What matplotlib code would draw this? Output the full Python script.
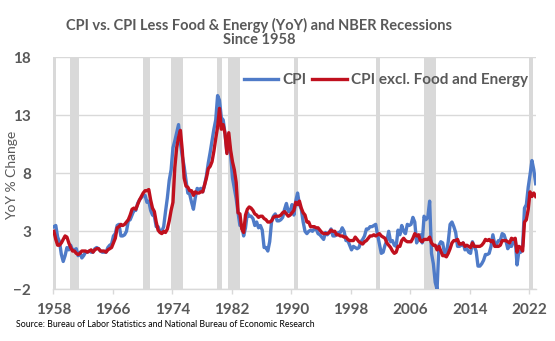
import numpy as np
import matplotlib
matplotlib.use("Agg")
import matplotlib.pyplot as plt

plt.rcParams['font.family'] = ['Lato', 'DejaVu Sans']

# ---------------- data (quarterly YoY %, Feb/May/Aug/Nov of each year) -------------
years = list(range(1958, 2023))

cpi = [
    3.4, 3.5, 2.5, 2.1,   1.0, 0.4, 0.9, 1.6,   1.4, 1.8, 1.4, 1.4,   1.5, 0.9, 1.2, 0.7,
    0.9, 1.2, 1.2, 1.3,   1.2, 1.2, 1.5, 1.6,   1.5, 1.3, 1.2, 1.2,   1.2, 1.6, 1.8, 1.9,
    2.6, 2.8, 3.5, 3.6,   2.6, 2.6, 2.7, 3.0,   3.9, 4.0, 4.4, 4.8,   4.8, 5.4, 5.7, 5.9,
    6.1, 6.1, 5.5, 5.6,   4.8, 4.4, 4.3, 3.4,   3.4, 3.0, 3.0, 3.4,   4.7, 5.9, 7.4, 8.3,
    10.2, 10.8, 11.5, 12.2, 10.6, 9.5, 8.6, 7.4, 6.3, 6.2, 5.5, 4.9,  5.9, 6.7, 6.6, 6.7,
    6.4, 7.0, 7.8, 8.9,   9.8, 10.8, 11.8, 12.6, 14.7, 14.3, 12.8, 12.6, 11.4, 9.8, 10.8, 9.6,
    7.6, 6.7, 5.8, 4.6,   3.5, 3.5, 2.6, 3.3,   4.6, 4.3, 4.3, 4.1,   3.5, 3.8, 3.3, 3.5,
    3.1, 1.6, 1.6, 1.3,   2.1, 3.8, 4.3, 4.5,   3.9, 3.9, 4.0, 4.2,   4.9, 5.4, 4.7, 4.7,
    5.3, 4.4, 5.6, 6.3,   5.3, 4.9, 3.8, 3.0,   2.8, 3.0, 3.1, 3.0,   3.2, 3.2, 2.8, 2.7,
    2.5, 2.3, 2.9, 2.7,   2.9, 3.2, 2.6, 2.6,   2.7, 2.9, 2.9, 3.3,   3.0, 2.2, 2.2, 1.8,
    1.4, 1.7, 1.6, 1.5,   1.6, 2.1, 2.3, 2.6,   3.2, 3.2, 3.4, 3.4,   3.5, 3.6, 2.7, 1.9,
    1.1, 1.2, 1.8, 2.2,   3.0, 2.1, 2.2, 1.8,   1.7, 3.1, 2.7, 3.5,   3.0, 2.8, 3.6, 3.5,
    3.6, 4.2, 3.8, 2.0,   2.4, 2.7, 2.0, 4.3,   4.0, 4.2, 5.6, 1.1,   0.2, -1.4, -2.0, 1.8,
    2.1, 2.0, 1.1, 1.1,   2.1, 3.6, 3.8, 3.4,   2.9, 1.7, 1.7, 1.8,   2.0, 1.4, 1.5, 1.2,
    1.1, 2.1, 1.7, 1.3,   0.0, 0.0, 0.2, 0.5,   1.0, 1.0, 1.1, 1.7,   2.7, 1.9, 1.9, 2.2,
    2.2, 2.8, 2.7, 2.2,   1.5, 1.8, 1.7, 2.1,   2.3, 0.1, 1.3, 1.2,   1.7, 5.0, 5.3, 6.8,
    7.9, 9.1, 8.3, 7.1,
]

core = [
    3.0, 2.3, 1.8, 1.8,   2.0, 2.3, 2.6, 2.5,   2.0, 1.6, 1.3, 1.3,   1.1, 1.0, 1.1, 1.3,
    1.3, 1.3, 1.2, 1.3,   1.4, 1.2, 1.4, 1.5,   1.5, 1.3, 1.3, 1.3,   1.2, 1.4, 1.5, 1.6,
    2.0, 2.4, 3.3, 3.4,   3.6, 3.5, 3.6, 3.8,   4.0, 4.4, 4.9, 5.0,   4.9, 5.3, 5.7, 6.0,
    6.3, 6.5, 6.5, 6.6,   5.7, 5.0, 4.7, 3.8,   3.1, 2.9, 2.8, 3.0,   2.9, 3.2, 3.9, 4.8,
    5.5, 8.5, 10.2, 11.1, 11.7, 10.0, 7.6, 6.9, 6.8, 6.5, 6.5, 6.1,  6.4, 6.3, 6.3, 6.4,
    6.4, 7.0, 7.6, 8.4,   8.6, 9.0, 9.9, 11.0,  12.0, 13.6, 11.8, 12.2, 11.4, 9.7, 11.5, 10.0,
    9.0, 8.3, 7.2, 4.6,   4.5, 3.2, 2.9, 4.4,   4.9, 5.1, 5.0, 4.8,   4.5, 4.4, 4.2, 4.3,
    4.3, 4.1, 4.0, 3.8,   3.8, 3.9, 4.2, 4.3,   4.3, 4.3, 4.4, 4.6,   4.7, 4.5, 4.3, 4.4,
    4.6, 4.8, 5.5, 5.3,   5.6, 5.0, 4.6, 4.4,   3.8, 3.8, 3.4, 3.4,   3.4, 3.3, 3.3, 3.1,
    2.9, 2.8, 2.8, 2.8,   2.9, 3.1, 3.0, 3.0,   2.7, 2.7, 2.6, 2.6,   2.5, 2.5, 2.3, 2.2,
    2.2, 2.2, 2.5, 2.3,   2.1, 2.0, 1.9, 2.1,   2.2, 2.4, 2.6, 2.6,   2.7, 2.6, 2.7, 2.8,
    2.6, 2.5, 2.4, 2.0,   1.8, 1.6, 1.3, 1.1,   1.2, 1.7, 1.7, 2.2,   2.4, 2.2, 2.1, 2.1,
    2.1, 2.4, 2.8, 2.6,   2.7, 2.2, 2.1, 2.3,   2.3, 2.3, 2.5, 2.0,   1.8, 1.8, 1.4, 1.7,
    1.3, 0.9, 0.9, 0.8,   1.1, 1.5, 2.0, 2.2,   2.2, 2.3, 1.9, 1.9,   2.0, 1.7, 1.8, 1.7,
    1.6, 2.0, 1.7, 1.7,   1.7, 1.7, 1.8, 2.0,   2.3, 2.2, 2.3, 2.1,   2.2, 1.7, 1.7, 1.7,
    1.8, 2.2, 2.2, 2.2,   2.1, 2.0, 2.4, 2.3,   2.4, 1.2, 1.7, 1.6,   1.3, 3.8, 4.0, 4.9,
    6.4, 6.0, 6.3, 6.0,
]

recession_start = [1958.0, 1960.25, 1970.0, 1973.8, 1979.96, 1981.5, 1990.35, 2001.37, 2007.86, 2022.0]
recession_end   = [1958.35, 1961.45, 1971.0, 1975.4, 1980.63, 1983.07, 1990.93, 2001.9, 2009.5, 2022.45]

x_ticks = list(range(1958, 2023, 8))
y_ticks = [-2, 3, 8, 13, 18]

# ---------------- figure ----------------
t = np.array([y + (1 + 3 * q) / 12.0 for y in years for q in range(4)])

W, H = 555, 341
fig = plt.figure(figsize=(W / 100, H / 100), dpi=100)
fig.patch.set_facecolor('white')
L, R, T, B = 53.3, 536, 57.3, 289.3
ax = fig.add_axes([L / W, 1 - B / H, (R - L) / W, (B - T) / H])

grey_txt = '#595959'
for s, e in zip(recession_start, recession_end):
    ax.axvspan(s, e, color='#D9D9D9', lw=0, zorder=1)

ax.plot(t, cpi, color='#4F7BC8', lw=2.4, zorder=3, label='CPI', solid_joinstyle='round')
ax.plot(t, core, color='#C0101E', lw=2.4, zorder=4, label='CPI excl. Food and Energy',
        solid_joinstyle='round')

ax.set_xlim(1958.0, 1958 + (R - L) / 7.44)
ax.set_ylim(-2, 18)
ax.set_yticks(y_ticks)
ax.set_xticks(x_ticks)
ax.grid(axis='y', color='#D9D9D9', lw=1, zorder=0)
for sp in ['top', 'right', 'left']:
    ax.spines[sp].set_visible(False)
ax.spines['bottom'].set_color('#D9D9D9')
ax.spines['bottom'].set_linewidth(1)
ax.tick_params(axis='y', length=0, pad=16, labelsize=11, labelcolor=grey_txt)
ax.tick_params(axis='x', length=3.6, width=1, color='#D9D9D9', pad=6, labelsize=11,
               labelcolor=grey_txt)
for lab in ax.get_xticklabels() + ax.get_yticklabels():
    lab.set_fontweight('bold')

ax.set_ylabel('YoY % Change', fontsize=10, color=grey_txt, labelpad=8)
ax.yaxis.set_label_coords(-(L - 18) / (R - L), (B - 175) / (B - T))

leg = ax.legend(loc='center left', bbox_to_anchor=((244 - L) / (R - L), (B - 80) / (B - T)),
                ncol=2, frameon=False, handlelength=2.25, handletextpad=0.25,
                columnspacing=0.4, borderpad=0, borderaxespad=0,
                prop={'weight': 'bold', 'size': 11})
for txt in leg.get_texts():
    txt.set_color(grey_txt)

fig.text(259.5 / W, 1 - 25 / H, 'CPI vs. CPI Less Food & Energy (YoY) and NBER Recessions',
         ha='center', va='center', fontsize=10.5, fontweight='bold', color=grey_txt)
fig.text(259.5 / W, 1 - 40 / H, 'Since 1958',
         ha='center', va='center', fontsize=10.5, fontweight='bold', color=grey_txt)
fig.text(15.7 / W, 1 - 324.5 / H,
         'Source: Bureau of Labor Statistics and National Bureau of Economic Research',
         ha='left', va='center', fontsize=6.3, color='#000000')

fig.savefig('out.png', dpi=100, facecolor='white')
